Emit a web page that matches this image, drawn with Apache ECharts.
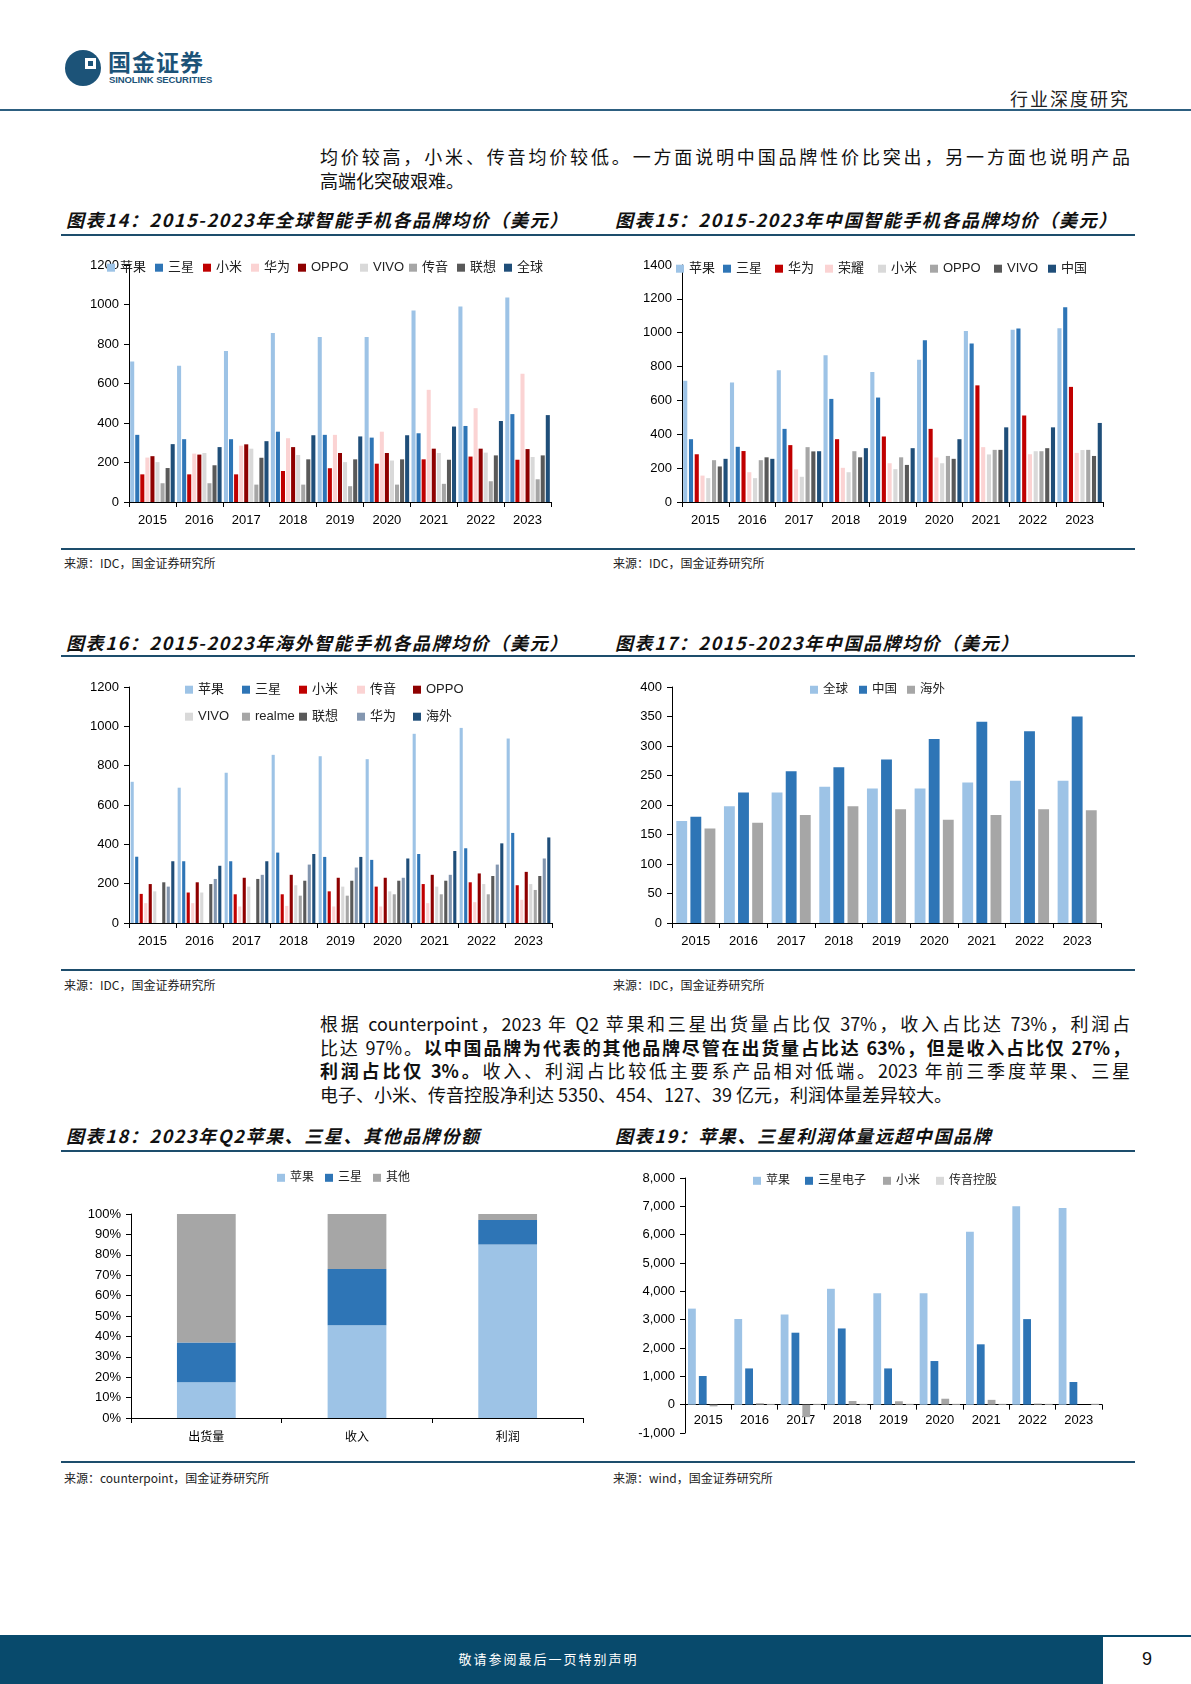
<!DOCTYPE html>
<html><head><meta charset="utf-8">
<script src="https://cdn.jsdelivr.net/npm/echarts/dist/echarts.min.js"></script>
<style>
html,body{margin:0;padding:0;background:#fff;}
body{width:1191px;height:1684px;position:relative;overflow:hidden;font-family:"Noto Sans CJK SC","Liberation Sans",sans-serif;color:#111;}
.hl{position:absolute;height:2px;background:#1d4d6c;}
.title{position:absolute;font-size:18px;font-weight:bold;font-style:italic;letter-spacing:1.6px;color:#111;white-space:nowrap;line-height:20px;}
.src{position:absolute;font-size:12px;color:#222;white-space:nowrap;line-height:14px;}
.para{position:absolute;left:320px;width:810px;font-size:18px;color:#111;}
.para div{text-align:justify;text-align-last:justify;white-space:nowrap;}
.para div.last{text-align-last:left;}
.chart{position:absolute;}
</style>
</head><body>

<!-- header -->
<svg style="position:absolute;left:64px;top:49px" width="38" height="38" viewBox="0 0 38 38">
  <circle cx="19" cy="19" r="18" fill="#1c5378"/>
  <rect x="21" y="9" width="11" height="11" fill="#fff"/>
  <rect x="24" y="12" width="5" height="5" fill="#1c5378"/>
</svg>
<div style="position:absolute;left:108px;top:48px;font-size:23px;font-weight:bold;color:#1c5378;letter-spacing:1px;line-height:26px;">国金证券</div>
<div style="position:absolute;left:109px;top:74px;font-size:9.5px;font-weight:bold;color:#1c5378;font-family:'Liberation Sans',sans-serif;letter-spacing:-0.1px;line-height:11px;">SINOLINK SECURITIES</div>
<div style="position:absolute;right:61px;top:87px;font-size:18px;letter-spacing:2px;color:#222;line-height:22px;">行业深度研究</div>
<div style="position:absolute;left:0;top:109px;width:1191px;height:2px;background:#2d5f80;"></div>

<div class="para" style="top:144px;line-height:24px;">
<div>均价较高，小米、传音均价较低。一方面说明中国品牌性价比突出，另一方面也说明产品</div>
<div class="last">高端化突破艰难。</div>
</div>

<div class="title" style="left:66px;top:209px;">图表14：2015-2023年全球智能手机各品牌均价（美元）</div>
<div class="title" style="left:615px;top:209px;">图表15：2015-2023年中国智能手机各品牌均价（美元）</div>
<div class="hl" style="left:61px;top:234px;width:1074px;"></div>
<div class="chart" id="c14" style="left:61px;top:240px;width:504px;height:300px;"></div>
<div class="chart" id="c15" style="left:612px;top:240px;width:504px;height:300px;"></div>
<div class="hl" style="left:61px;top:548px;width:1074px;"></div>
<div class="src" style="left:64px;top:556px;">来源：IDC，国金证券研究所</div>
<div class="src" style="left:613px;top:556px;">来源：IDC，国金证券研究所</div>

<div class="title" style="left:66px;top:632px;">图表16：2015-2023年海外智能手机各品牌均价（美元）</div>
<div class="title" style="left:615px;top:632px;">图表17：2015-2023年中国品牌均价（美元）</div>
<div class="hl" style="left:61px;top:655px;width:1074px;"></div>
<div class="chart" id="c16" style="left:61px;top:660px;width:504px;height:300px;"></div>
<div class="chart" id="c17" style="left:612px;top:660px;width:504px;height:300px;"></div>
<div class="hl" style="left:61px;top:969px;width:1074px;"></div>
<div class="src" style="left:64px;top:978px;">来源：IDC，国金证券研究所</div>
<div class="src" style="left:613px;top:978px;">来源：IDC，国金证券研究所</div>

<div class="para" style="top:1012px;line-height:23.5px;">
<div>根据 counterpoint，2023 年 Q2 苹果和三星出货量占比仅 37%，收入占比达 73%，利润占</div>
<div>比达 97%。<b>以中国品牌为代表的其他品牌尽管在出货量占比达 63%，但是收入占比仅 27%，</b></div>
<div><b>利润占比仅 3%。</b>收入、利润占比较低主要系产品相对低端。2023 年前三季度苹果、三星</div>
<div class="last">电子、小米、传音控股净利达 5350、454、127、39 亿元，利润体量差异较大。</div>
</div>

<div class="title" style="left:66px;top:1125px;">图表18：2023年Q2苹果、三星、其他品牌份额</div>
<div class="title" style="left:615px;top:1125px;">图表19：苹果、三星利润体量远超中国品牌</div>
<div class="hl" style="left:61px;top:1150px;width:1074px;"></div>
<div class="chart" id="c18" style="left:61px;top:1160px;width:540px;height:300px;"></div>
<div class="chart" id="c19" style="left:612px;top:1160px;width:504px;height:300px;"></div>
<div class="hl" style="left:61px;top:1461px;width:1074px;"></div>
<div class="src" style="left:64px;top:1471px;">来源：counterpoint，国金证券研究所</div>
<div class="src" style="left:613px;top:1471px;">来源：wind，国金证券研究所</div>

<!-- footer -->
<div style="position:absolute;left:0;top:1635px;width:1191px;height:49px;background:#084a6c;"></div>
<div style="position:absolute;left:1103px;top:1637px;width:88px;height:47px;background:#fff;"></div>
<div style="position:absolute;left:1103px;top:1648px;width:88px;text-align:center;font-size:18px;color:#111;line-height:22px;font-family:'Liberation Sans Narrow','Liberation Sans',sans-serif;">9</div>
<div style="position:absolute;left:0;top:1650px;width:1097px;text-align:center;font-size:13px;letter-spacing:2px;color:#fff;line-height:18px;">敬请参阅最后一页特别声明</div>

<script>
// ===== data =====
const years = ['2015','2016','2017','2018','2019','2020','2021','2022','2023'];

// 图表14 全球
const g_apple     = [712, 690, 765, 856, 836, 836, 970, 990, 1035];
const g_samsung   = [340, 318, 318, 356, 340, 326, 348, 385, 445];
const g_xiaomi    = [140, 140, 140, 157, 171, 194, 216, 230, 214];
const g_huawei    = [225, 245, 285, 323, 340, 356, 568, 475, 650];
const g_oppo      = [232, 240, 292, 278, 248, 248, 270, 270, 268];
const g_vivo      = [202, 248, 270, 238, 202, 210, 248, 250, 228];
const g_transsion = [95, 95, 88, 88, 80, 88, 92, 105, 115];
const g_lenovo    = [172, 186, 224, 216, 216, 216, 214, 236, 236];
const g_global    = [293, 278, 308, 338, 332, 338, 382, 410, 440];

// 图表15 中国
const c_apple   = [716, 706, 778, 867, 768, 840, 1010, 1017, 1026];
const c_samsung = [371, 326, 432, 609, 617, 955, 937, 1025, 1150];
const c_huawei  = [282, 301, 336, 371, 387, 432, 689, 511, 680];
const c_honor   = [156, 176, 193, 202, 229, 263, 324, 282, 290];
const c_xiaomi  = [141, 141, 149, 176, 194, 229, 281, 300, 307];
const c_oppo    = [247, 247, 324, 300, 264, 272, 308, 300, 308];
const c_vivo    = [210, 264, 299, 264, 219, 255, 308, 318, 272];
const c_china   = [255, 255, 300, 318, 318, 371, 441, 441, 467];

// 图表16 海外
const o_apple     = [718, 688, 764, 855, 848, 833, 962, 992, 938];
const o_samsung   = [337, 314, 314, 358, 336, 321, 351, 380, 458];
const o_xiaomi    = [148, 155, 146, 146, 161, 185, 198, 207, 192];
const o_transsion = [101, 101, 84, 87, 84, 84, 101, 106, 118];
const o_oppo      = [198, 207, 230, 245, 230, 230, 245, 252, 260];
const o_vivo      = [161, 155, 185, 192, 185, 161, 185, 198, 198];
const o_realme    = [null, null, null, 139, 139, 146, 146, 146, 168];
const o_lenovo    = [207, 198, 224, 215, 215, 215, 215, 239, 239];
const o_huawei    = [185, 224, 245, 297, 282, 230, 245, 297, 328];
const o_overseas  = [314, 291, 314, 351, 336, 328, 366, 405, 435];

// 图表17 中国品牌均价
const b_global   = [173, 198, 221, 231, 228, 228, 238, 241, 241];
const b_china    = [180, 221, 257, 264, 277, 312, 341, 325, 350];
const b_overseas = [160, 170, 183, 198, 193, 175, 183, 193, 191];

// 图表18 份额
const shareCats   = ['出货量', '收入', '利润'];
const s_apple     = [17.5, 45.5, 85];
const s_samsung   = [19.5, 27.5, 12];
const s_other     = [63, 27, 3];

// 图表19 利润
const p_apple     = [3390, 3020, 3180, 4090, 3935, 3935, 6100, 7005, 6940];
const p_samsung   = [1012, 1279, 2540, 2690, 1279, 1540, 2130, 3020, 800];
const p_xiaomi    = [-60, 50, -440, 130, 120, 210, 170, 40, null];
const p_transsion = [null, 30, 35, 35, 35, 35, 35, 35, 40];

// ===== styling =====
const C = {
  lblue:'#9DC3E6', blue:'#2E75B6', red:'#C00000', pink:'#FBD3D3', dred:'#8E0000',
  lgray:'#D9D9D9', gray:'#A6A6A6', dgray:'#595959', navy:'#1F4E79', slate:'#8497B0'
};
const FONT = '"Liberation Sans", Arial, "Noto Sans CJK SC", sans-serif';
const plain = v => String(v);

function build(id, cfg) {
  const el = document.getElementById(id);
  const chart = echarts.init(el);
  const fs = cfg.legendFont || 13;
  const legend = cfg.series.map((s, i) => ({
    data: [s.name], left: cfg.legendPos[i][0], top: cfg.legendPos[i][1] - fs * 0.6,
    padding: 0, itemWidth: 8, itemHeight: 8, itemGap: 0, icon: 'rect',
    selectedMode: false,
    textStyle: { fontSize: fs, color: '#222', fontFamily: FONT }
  }));
  // place the category axis at value 0 (shift up from grid bottom when min < 0)
  const gridH = el.clientHeight - cfg.grid.top - cfg.grid.bottom;
  const zeroOffset = cfg.yMin < 0 ? -gridH * (0 - cfg.yMin) / (cfg.yMax - cfg.yMin) : 0;
  const option = {
    animation: false,
    backgroundColor: '#fff',
    grid: Object.assign({ outerBoundsMode: 'none', containLabel: false }, cfg.grid),
    legend: legend,
    xAxis: {
      type: 'category', data: cfg.categories, boundaryGap: true, offset: zeroOffset,
      axisLine: { show: true, onZero: false, lineStyle: { color: '#000', width: 1 } },
      axisTick: { show: true, length: 5, alignWithLabel: false, lineStyle: { color: '#000' } },
      axisLabel: { color: '#000', fontSize: cfg.xFont || 13, fontFamily: FONT, margin: cfg.xMargin || 12, interval: 0 },
      splitLine: { show: false }
    },
    yAxis: {
      type: 'value', min: cfg.yMin, max: cfg.yMax, interval: cfg.yInterval,
      axisLine: { show: true, lineStyle: { color: '#000', width: 1 } },
      axisTick: { show: true, length: 5, lineStyle: { color: '#000' } },
      axisLabel: { color: '#000', fontSize: 13, fontFamily: FONT, margin: 10, formatter: cfg.yFormatter || plain },
      splitLine: { show: false }
    },
    series: cfg.series.map(s => ({
      type: 'bar', name: s.name, data: s.data, stack: cfg.stack ? 'total' : undefined,
      itemStyle: { color: s.color },
      barGap: cfg.barGap, barCategoryGap: cfg.barCategoryGap,
      emphasis: { disabled: true }
    }))
  };
  chart.setOption(option);
}

// 图表14
build('c14', {
  categories: years,
  grid: { left: 68, right: 14, top: 25, bottom: 38 },
  yMin: 0, yMax: 1200, yInterval: 200,
  barGap: '25%', barCategoryGap: '5%',
  legendPos: [[46,29],[94,29],[142,29],[190,29],[237,29],[299,29],[348,29],[396,29],[443,29]],
  series: [
    { name: '苹果', data: g_apple, color: C.lblue },
    { name: '三星', data: g_samsung, color: C.blue },
    { name: '小米', data: g_xiaomi, color: C.red },
    { name: '华为', data: g_huawei, color: C.pink },
    { name: 'OPPO', data: g_oppo, color: C.dred },
    { name: 'VIVO', data: g_vivo, color: C.lgray },
    { name: '传音', data: g_transsion, color: C.gray },
    { name: '联想', data: g_lenovo, color: C.dgray },
    { name: '全球', data: g_global, color: C.navy }
  ]
});

// 图表15
build('c15', {
  categories: years,
  grid: { left: 70, right: 13, top: 25, bottom: 38 },
  yMin: 0, yMax: 1400, yInterval: 200,
  barGap: '40%', barCategoryGap: '5%',
  legendPos: [[64,30],[111,30],[163,30],[213,30],[266,30],[318,30],[382,30],[436,30]],
  series: [
    { name: '苹果', data: c_apple, color: C.lblue },
    { name: '三星', data: c_samsung, color: C.blue },
    { name: '华为', data: c_huawei, color: C.red },
    { name: '荣耀', data: c_honor, color: C.pink },
    { name: '小米', data: c_xiaomi, color: C.lgray },
    { name: 'OPPO', data: c_oppo, color: C.gray },
    { name: 'VIVO', data: c_vivo, color: C.dgray },
    { name: '中国', data: c_china, color: C.navy }
  ]
});

// 图表16
build('c16', {
  categories: years,
  grid: { left: 68, right: 13, top: 27, bottom: 37 },
  yMin: 0, yMax: 1200, yInterval: 200,
  barGap: '45%', barCategoryGap: '7%',
  legendPos: [[124,31],[181,31],[238,31],[296,31],[352,31],[124,58],[181,58],[238,58],[296,58],[352,58]],
  series: [
    { name: '苹果', data: o_apple, color: C.lblue },
    { name: '三星', data: o_samsung, color: C.blue },
    { name: '小米', data: o_xiaomi, color: C.red },
    { name: '传音', data: o_transsion, color: C.pink },
    { name: 'OPPO', data: o_oppo, color: C.dred },
    { name: 'VIVO', data: o_vivo, color: C.lgray },
    { name: 'realme', data: o_realme, color: C.gray },
    { name: '联想', data: o_lenovo, color: C.dgray },
    { name: '华为', data: o_huawei, color: C.slate },
    { name: '海外', data: o_overseas, color: C.navy }
  ]
});

// 图表17
build('c17', {
  categories: years,
  grid: { left: 60, right: 15, top: 27, bottom: 37 },
  yMin: 0, yMax: 400, yInterval: 50,
  barGap: '30%', barCategoryGap: '18%',
  legendFont: 12.5,
  legendPos: [[198,31],[247,31],[295,31]],
  series: [
    { name: '全球', data: b_global, color: C.lblue },
    { name: '中国', data: b_china, color: C.blue },
    { name: '海外', data: b_overseas, color: C.gray }
  ]
});

// 图表18
build('c18', {
  categories: shareCats,
  grid: { left: 70, right: 18, top: 54, bottom: 42 },
  yMin: 0, yMax: 100, yInterval: 10, yFormatter: '{value}%',
  stack: true, barCategoryGap: '61%',
  xFont: 12, xMargin: 14,
  legendFont: 12,
  legendPos: [[216,19],[264,19],[312,19]],
  series: [
    { name: '苹果', data: s_apple, color: C.lblue },
    { name: '三星', data: s_samsung, color: C.blue },
    { name: '其他', data: s_other, color: C.gray }
  ]
});

// 图表19
build('c19', {
  categories: years,
  grid: { left: 73, right: 14, top: 18, bottom: 27 },
  yMin: -1000, yMax: 8000, yInterval: 1000,
  yFormatter: v => v.toLocaleString('en-US'),
  barGap: '39%', barCategoryGap: '13%',
  xMargin: 9,
  legendFont: 12,
  legendPos: [[141,22],[193,22],[271,22],[324,22]],
  series: [
    { name: '苹果', data: p_apple, color: C.lblue },
    { name: '三星电子', data: p_samsung, color: C.blue },
    { name: '小米', data: p_xiaomi, color: C.gray },
    { name: '传音控股', data: p_transsion, color: C.lgray }
  ]
});
</script>
</body></html>
